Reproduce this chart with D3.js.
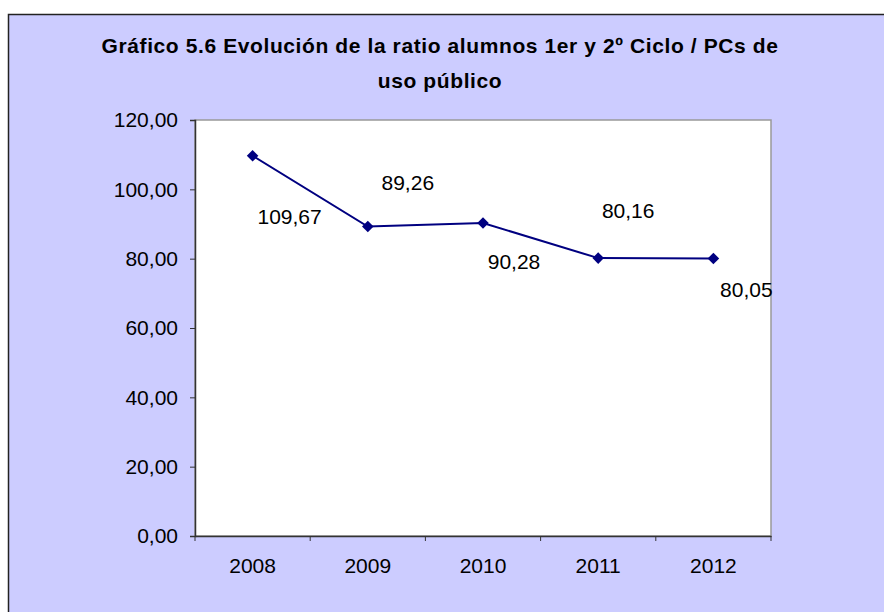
<!DOCTYPE html>
<html>
<head>
<meta charset="utf-8">
<script src="https://cdn.jsdelivr.net/npm/d3@7"></script>
<style>
  body { margin: 0; background: #fff; }
  svg { display: block; font-family: Arial, "Liberation Sans", sans-serif; }
</style>
</head>
<body>
<div id="chart"></div>
<script>
var years = ["2008", "2009", "2010", "2011", "2012"];
var ratios = [109.67, 89.26, 90.28, 80.16, 80.05];
var labelTexts = ["109,67", "89,26", "90,28", "80,16", "80,05"];
var yTicks = [0, 20, 40, 60, 80, 100, 120];

// where each data label sits relative to its point (px)
var labelDx = [37, 40, 31, 30, 33];
var labelDy = [61, -44, 39, -47, 31];

var w = 884, h = 612;
var plot = {left: 195, top: 120, right: 771, bottom: 536};
var fontSize = "21px";

var svg = d3.select("#chart").append("svg")
    .attr("width", w)
    .attr("height", h);

svg.append("rect")
    .attr("x", 8.5).attr("y", 14.5)
    .attr("width", w + 10).attr("height", h + 10)
    .attr("fill", "#ccccff")
    .attr("stroke", "#222")
    .attr("stroke-width", 1.5);

var title = svg.append("text")
    .attr("text-anchor", "middle")
    .attr("font-size", "21px")
    .attr("font-weight", "bold")
    .attr("letter-spacing", "0.6px")
    .attr("fill", "#000");
title.append("tspan").attr("x", 440).attr("y", 53)
    .text("Gráfico 5.6 Evolución de la ratio alumnos 1er y 2º Ciclo / PCs de");
title.append("tspan").attr("x", 440).attr("y", 88)
    .text("uso público");

var x = d3.scaleBand()
    .domain(years)
    .range([plot.left, plot.right]);

var y = d3.scaleLinear()
    .domain([0, 120])
    .range([plot.bottom, plot.top]);

svg.append("rect")
    .attr("x", plot.left).attr("y", plot.top)
    .attr("width", plot.right - plot.left)
    .attr("height", plot.bottom - plot.top)
    .attr("fill", "#fff")
    .attr("stroke", "#999")
    .attr("stroke-width", 1.5);

var yAxis = svg.append("g")
    .attr("transform", "translate(" + plot.left + ",0)")
    .call(d3.axisLeft(y).tickValues(yTicks).tickSize(5).tickPadding(12)
        .tickFormat(function(d) { return d3.format(".2f")(d).replace(".", ","); }));

var xAxis = svg.append("g")
    .attr("transform", "translate(0," + plot.bottom + ")")
    .call(d3.axisBottom(x).tickSize(0).tickPadding(22));

[yAxis, xAxis].forEach(function(g) {
    g.select(".domain").attr("stroke", "#333").attr("stroke-width", 1.5);
    g.selectAll(".tick line").attr("stroke", "#333");
    g.selectAll("text")
        .attr("font-family", "Arial, 'Liberation Sans', sans-serif")
        .attr("font-size", fontSize)
        .attr("fill", "#000");
});

// category boundary ticks on x axis
var bounds = years.map(function(d) { return x(d); }).concat([x(years[years.length - 1]) + x.bandwidth()]);
xAxis.selectAll(".bound")
    .data(bounds)
    .enter()
    .append("line")
    .attr("class", "bound")
    .attr("x1", function(d) { return d; })
    .attr("x2", function(d) { return d; })
    .attr("y1", 0).attr("y2", 5)
    .attr("stroke", "#333");

var line = d3.line()
    .x(function(d, i) { return x(years[i]) + x.bandwidth() / 2; })
    .y(function(d) { return y(d); });

svg.append("path")
    .datum(ratios)
    .attr("fill", "none")
    .attr("stroke", "#000080")
    .attr("stroke-width", 2)
    .attr("d", line);

svg.selectAll(".marker")
    .data(ratios)
    .enter()
    .append("path")
    .attr("class", "marker")
    .attr("d", d3.symbol().type(d3.symbolDiamond2).size(85))
    .attr("fill", "#000080")
    .attr("transform", function(d, i) {
        return "translate(" + (x(years[i]) + x.bandwidth() / 2) + "," + y(d) + ")";
    });

svg.selectAll(".label")
    .data(ratios)
    .enter()
    .append("text")
    .attr("class", "label")
    .attr("text-anchor", "middle")
    .attr("dy", ".35em")
    .attr("font-size", fontSize)
    .attr("fill", "#000")
    .attr("x", function(d, i) { return x(years[i]) + x.bandwidth() / 2 + labelDx[i]; })
    .attr("y", function(d, i) { return y(d) + labelDy[i]; })
    .text(function(d, i) { return labelTexts[i]; });
</script>
</body>
</html>
